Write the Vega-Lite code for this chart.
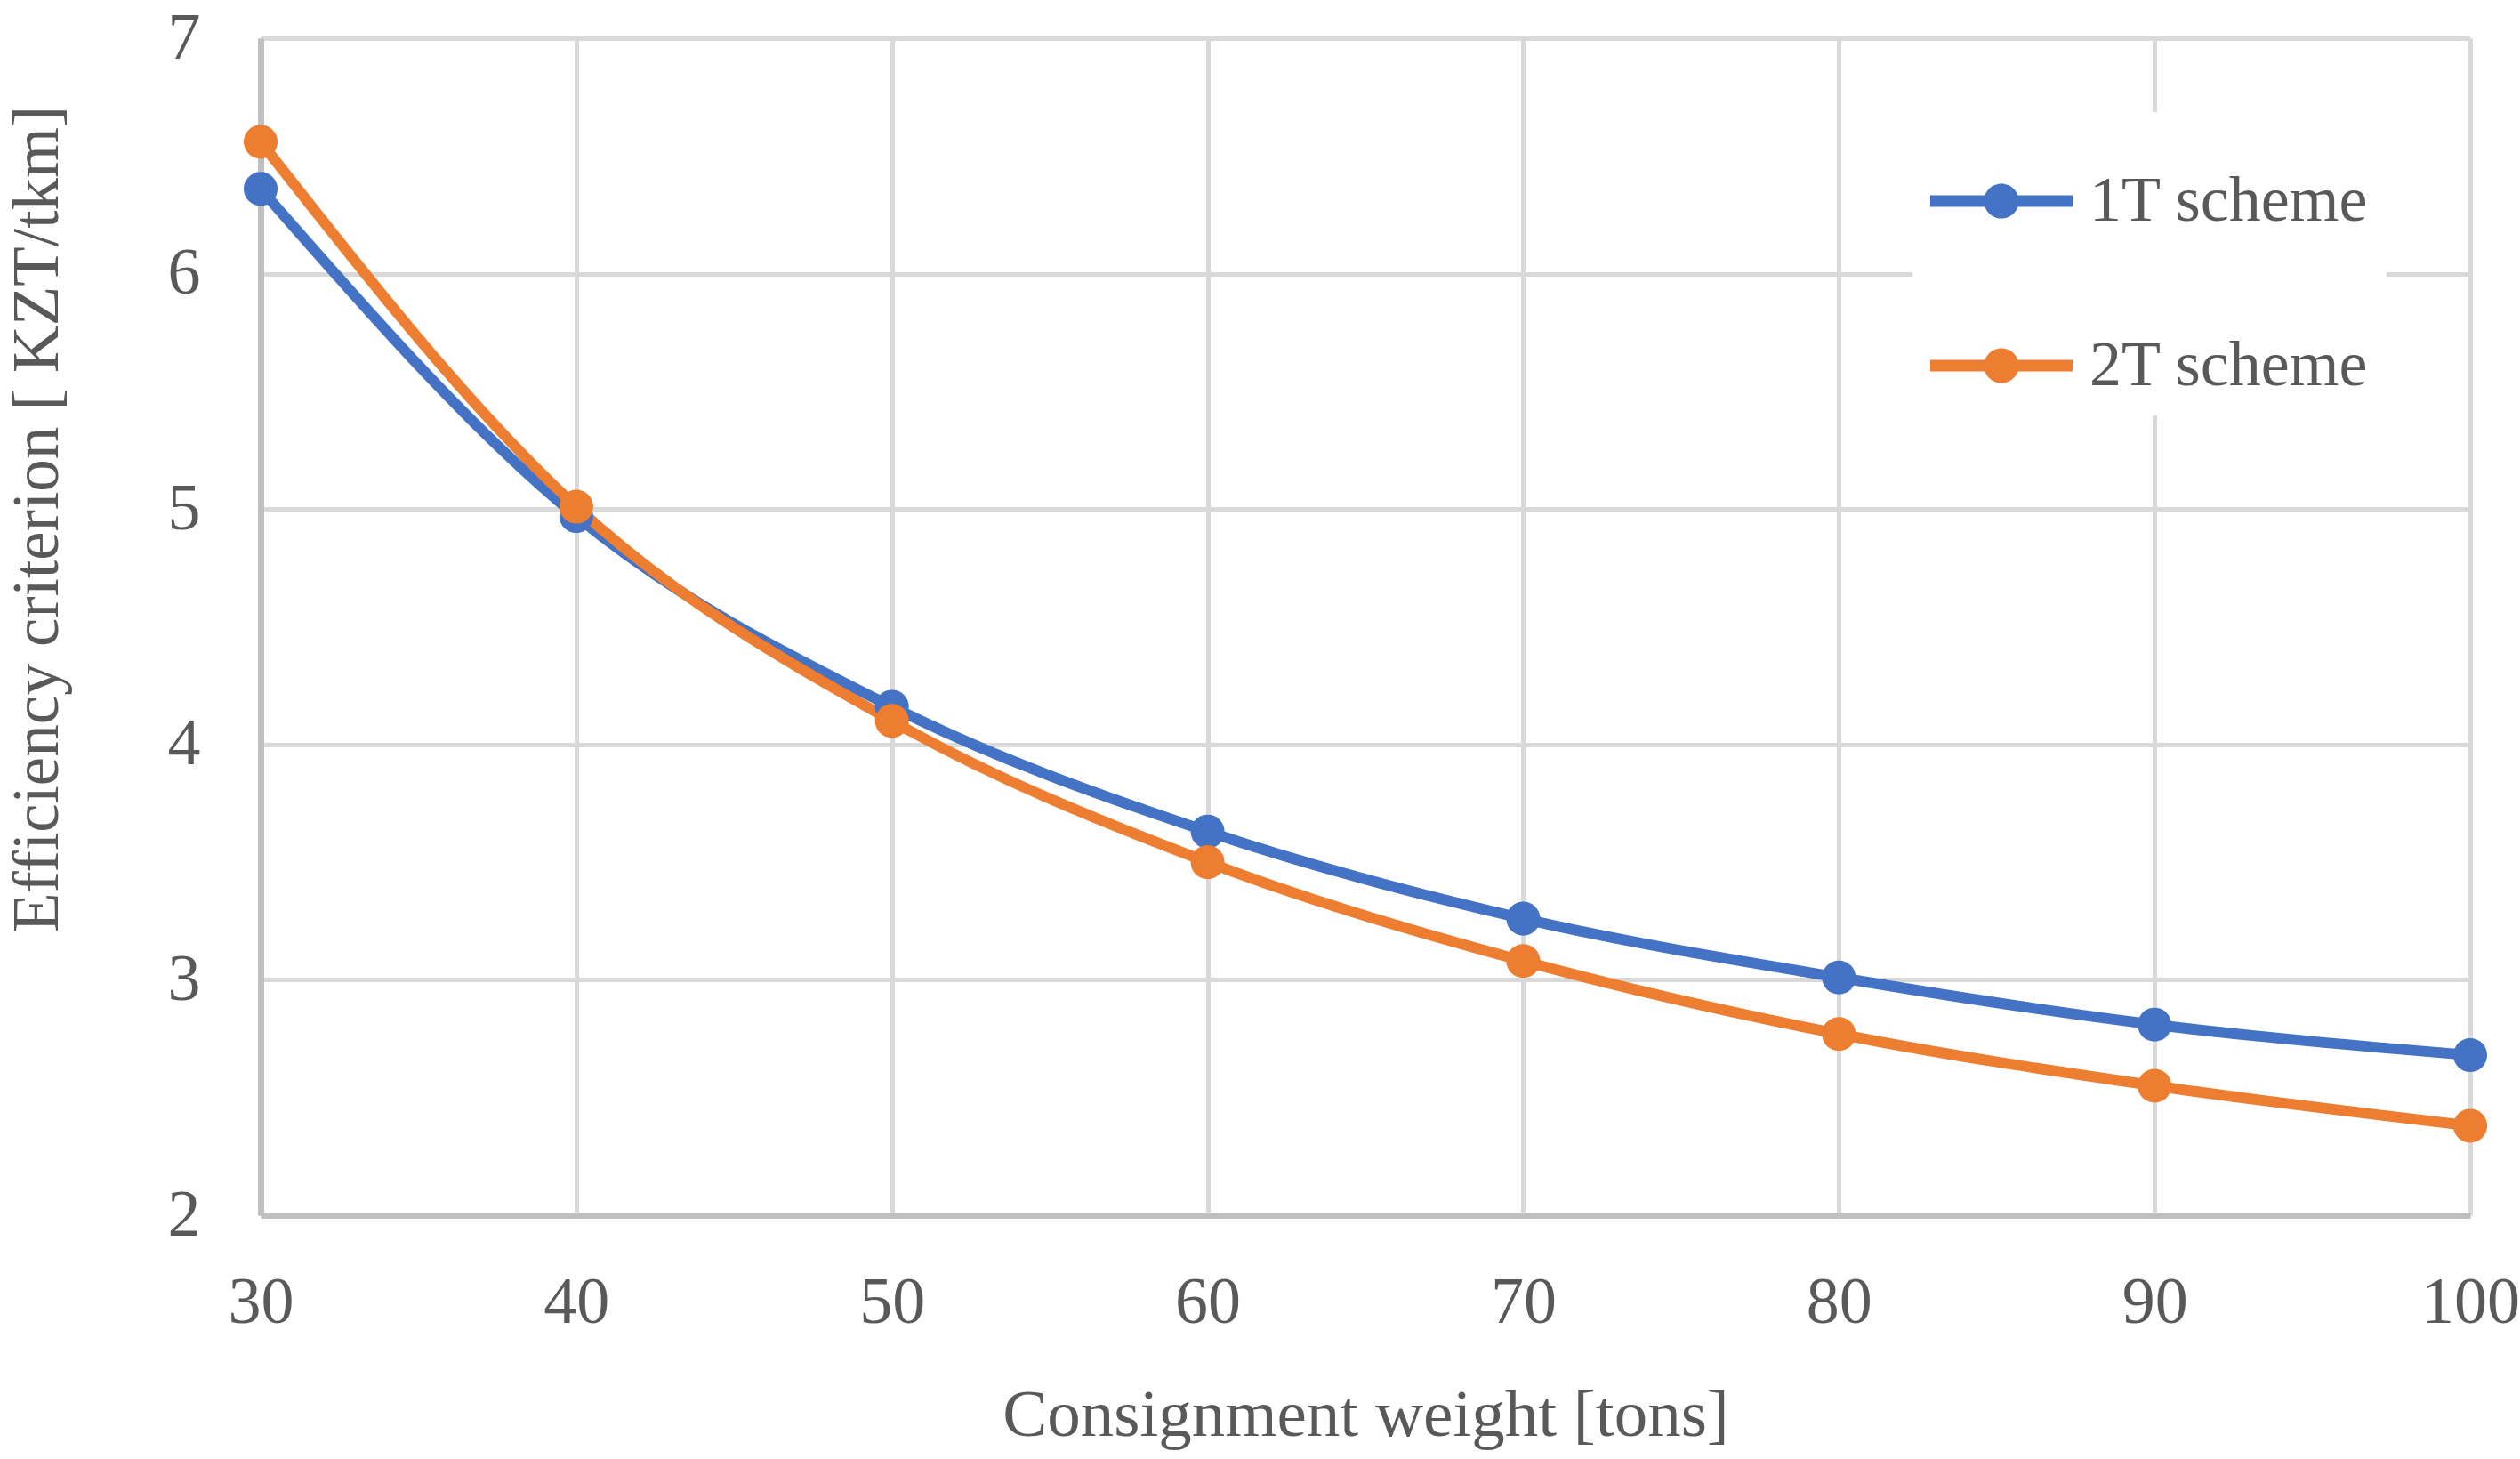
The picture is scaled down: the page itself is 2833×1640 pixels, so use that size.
{
  "$schema": "https://vega.github.io/schema/vega-lite/v6.json",
  "width": 2484,
  "height": 1323,
  "autosize": {"type": "none"},
  "padding": {"left": 293, "top": 43, "right": 56, "bottom": 274},
  "background": "white",
  "data": {
    "values": [
      {"weight": 30, "value": 6.36, "series": "1T scheme"},
      {"weight": 40, "value": 4.97, "series": "1T scheme"},
      {"weight": 50, "value": 4.16, "series": "1T scheme"},
      {"weight": 60, "value": 3.63, "series": "1T scheme"},
      {"weight": 70, "value": 3.26, "series": "1T scheme"},
      {"weight": 80, "value": 3.01, "series": "1T scheme"},
      {"weight": 90, "value": 2.81, "series": "1T scheme"},
      {"weight": 100, "value": 2.68, "series": "1T scheme"},
      {"weight": 30, "value": 6.56, "series": "2T scheme"},
      {"weight": 40, "value": 5.01, "series": "2T scheme"},
      {"weight": 50, "value": 4.10, "series": "2T scheme"},
      {"weight": 60, "value": 3.50, "series": "2T scheme"},
      {"weight": 70, "value": 3.08, "series": "2T scheme"},
      {"weight": 80, "value": 2.77, "series": "2T scheme"},
      {"weight": 90, "value": 2.55, "series": "2T scheme"},
      {"weight": 100, "value": 2.38, "series": "2T scheme"}
    ]
  },
  "encoding": {
    "x": {
      "field": "weight",
      "type": "quantitative",
      "scale": {"domain": [30, 100], "nice": false, "zero": false},
      "axis": {
        "title": "Consignment weight [tons]",
        "values": [30, 40, 50, 60, 70, 80, 90, 100],
        "labelFlush": false,
        "labelPadding": 62,
        "titleY": 224,
        "titleBaseline": "middle"
      }
    },
    "y": {
      "field": "value",
      "type": "quantitative",
      "scale": {"domain": [2, 7], "nice": false, "zero": false},
      "axis": {
        "title": "Efficiency criterion [ KZT/tkm]",
        "values": [2, 3, 4, 5, 6, 7],
        "labelFlush": false,
        "labelPadding": 68,
        "titleX": -251,
        "titleY": 540,
        "titleAngle": -90,
        "titleFontSize": 73,
        "titleBaseline": "middle",
        "titleAlign": "center"
      }
    },
    "color": {
      "field": "series",
      "type": "nominal",
      "scale": {"domain": ["1T scheme", "2T scheme"], "range": ["#4472C4", "#ED7D31"]},
      "legend": {
        "title": null,
        "orient": "none",
        "legendX": 1857,
        "legendY": 83,
        "padding": 20,
        "fillColor": "white",
        "symbolType": "M-1,-0.08H1V0.08H-1Z M-0.245,0A0.245,0.245,0,1,1,0.245,0A0.245,0.245,0,1,1,-0.245,0Z",
        "symbolSize": 25600,
        "symbolStrokeWidth": 0,
        "symbolOpacity": 1,
        "symbolFillColor": {"expr": "scale('color', datum.value)"},
        "labelFont": "Liberation Serif",
        "labelFontSize": 72,
        "labelColor": "#595959",
        "labelOffset": 19,
        "rowPadding": 69,
        "labelLimit": 600
      }
    }
  },
  "layer": [
    {
      "mark": {"type": "line", "interpolate": "monotone", "strokeWidth": 12, "strokeCap": "round"}
    },
    {
      "mark": {"type": "point", "filled": true, "opacity": 1, "size": 1450}
    }
  ],
  "config": {
    "font": "Liberation Serif",
    "view": {"stroke": null},
    "axis": {
      "labelFont": "Liberation Serif",
      "labelFontSize": 74,
      "labelColor": "#595959",
      "titleFont": "Liberation Serif",
      "titleFontSize": 75,
      "titleFontWeight": "normal",
      "titleColor": "#595959",
      "ticks": false,
      "grid": true,
      "gridColor": "#D9D9D9",
      "gridWidth": 5,
      "domainColor": "#BFBFBF",
      "domainWidth": 7
    }
  }
}
